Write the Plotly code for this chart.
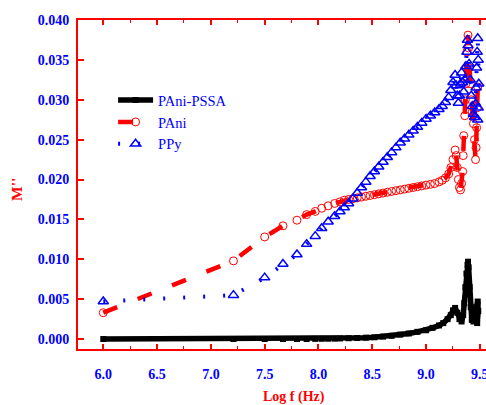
import plotly.graph_objects as go

# ---- data ----
PANI_PSSA_X = [6.00, 7.21, 7.50, 7.67, 7.80, 7.89, 7.97, 8.03, 8.09, 8.15, 8.20, 8.28, 8.36, 8.44,
               8.52, 8.60, 8.68, 8.76, 8.84, 8.92, 9.00, 9.06, 9.12, 9.16, 9.20, 9.23, 9.25, 9.27,
               9.29, 9.31, 9.33, 9.345, 9.355, 9.365, 9.375, 9.385, 9.39, 9.395, 9.405, 9.415,
               9.425, 9.44, 9.455, 9.47, 9.48, 9.485, 9.475]
PANI_PSSA_Y = [0.0, 0.0, 0.0, 0.0, 0.0, 0.0, 0.00002, 0.00003, 0.00004, 0.00005, 0.00007, 0.0001,
               0.00013, 0.00017, 0.00022, 0.0003, 0.0004, 0.00055, 0.0007, 0.0009, 0.0011, 0.0014,
               0.0017, 0.0020, 0.0025, 0.0030, 0.0036, 0.0039, 0.0033, 0.0025, 0.0022, 0.0030,
               0.0045, 0.0065, 0.0082, 0.0093, 0.0097, 0.0090, 0.0065, 0.0040, 0.0024, 0.0022,
               0.0030, 0.0040, 0.0047, 0.0035, 0.0020]

PANI_X = [6.00, 7.21, 7.50, 7.67, 7.80, 7.89, 7.97, 8.03, 8.09, 8.15, 8.20, 8.24, 8.28, 8.32,
          8.36, 8.40, 8.44, 8.48, 8.52, 8.56, 8.60, 8.64, 8.68, 8.72, 8.76, 8.80, 8.84, 8.88,
          8.92, 8.96, 9.00, 9.04, 9.08, 9.12, 9.15, 9.18, 9.21, 9.23, 9.25, 9.27, 9.28, 9.29,
          9.30, 9.31, 9.32, 9.33, 9.34, 9.345, 9.35, 9.36, 9.365, 9.37, 9.375, 9.38, 9.39,
          9.395, 9.40, 9.41, 9.42, 9.43, 9.44, 9.45, 9.46, 9.465, 9.47, 9.475, 9.48]
PANI_Y = [0.0033, 0.0098, 0.0128, 0.0142, 0.0149, 0.0156, 0.0160, 0.0164, 0.0167, 0.0170,
          0.0172, 0.0174, 0.0175, 0.0176, 0.0177, 0.0178, 0.0179, 0.0180, 0.0181, 0.0182,
          0.0183, 0.0184, 0.0185, 0.0186, 0.0187, 0.0188, 0.0189, 0.0190, 0.0191, 0.0192,
          0.0193, 0.0194, 0.0195, 0.0197, 0.0199, 0.0202, 0.0207, 0.0215, 0.0225, 0.0237,
          0.0230, 0.0215, 0.0200, 0.0190, 0.0187, 0.0195, 0.0210, 0.0230, 0.0255, 0.0280,
          0.0300, 0.0320, 0.0340, 0.0360, 0.0381, 0.0365, 0.0340, 0.0320, 0.0300, 0.0285,
          0.0270, 0.0250, 0.0225, 0.0240, 0.0265, 0.0290, 0.0316]

PPY_X = [6.00, 7.21, 7.50, 7.67, 7.80, 7.89, 7.97, 8.03, 8.09, 8.15, 8.20, 8.24, 8.28, 8.32,
         8.36, 8.40, 8.44, 8.48, 8.52, 8.56, 8.60, 8.64, 8.68, 8.72, 8.76, 8.80, 8.84, 8.88,
         8.92, 8.96, 9.00, 9.04, 9.08, 9.12, 9.15, 9.18, 9.21, 9.23, 9.25, 9.27, 9.28, 9.29,
         9.30, 9.31, 9.32, 9.33, 9.34, 9.35, 9.36, 9.37, 9.38, 9.385, 9.39, 9.40, 9.41, 9.42,
         9.43, 9.44, 9.45, 9.46, 9.465, 9.47, 9.475, 9.48, 9.485, 9.49, 9.485, 9.48]
PPY_Y = [0.0047, 0.0055, 0.0077, 0.0094, 0.0106, 0.0119, 0.0129, 0.0139, 0.0147, 0.0154,
         0.0160, 0.0165, 0.0170, 0.0176, 0.0183, 0.0190, 0.0197, 0.0204, 0.0210, 0.0216,
         0.0222, 0.0228, 0.0234, 0.0240, 0.0246, 0.0251, 0.0256, 0.0261, 0.0266, 0.0271,
         0.0276, 0.0280, 0.0284, 0.0288, 0.0292, 0.0297, 0.0303, 0.0312, 0.0322, 0.0331,
         0.0318, 0.0305, 0.0296, 0.0305, 0.0320, 0.0334, 0.0322, 0.0310, 0.0325, 0.0342,
         0.0360, 0.0375, 0.0368, 0.0345, 0.0325, 0.0305, 0.0292, 0.0282, 0.0278, 0.0295,
         0.0315, 0.0340, 0.0360, 0.0377, 0.0350, 0.0320, 0.0290, 0.0275]

X_TICKS = [6.0, 6.5, 7.0, 7.5, 8.0, 8.5, 9.0, 9.5]
Y_TICKS = [0.000, 0.005, 0.010, 0.015, 0.020, 0.025, 0.030, 0.035, 0.040]

SERIF = "Liberation Serif, Times New Roman, serif"
RED = "#ff0000"
BLUE = "#0000ff"

fig = go.Figure()
fig.add_trace(go.Scatter(
    x=PANI_PSSA_X, y=PANI_PSSA_Y, name="PAni-PSSA", mode="lines+markers",
    line=dict(color="black", width=5.5),
    marker=dict(symbol="square", size=6, color="black"),
))
fig.add_trace(go.Scatter(
    x=PANI_X, y=PANI_Y, name="PAni", mode="lines+markers",
    line=dict(color=RED, width=4.5, dash="15px,22px"),
    marker=dict(symbol="circle-open", size=8, color=RED, line=dict(width=1)),
))
fig.add_trace(go.Scatter(
    x=PPY_X, y=PPY_Y, name="PPy", mode="lines+markers",
    line=dict(color=BLUE, width=4, dash="2px,18px"),
    marker=dict(symbol="triangle-up-open", size=9, color=BLUE, line=dict(width=1.5)),
))

fig.update_layout(
    width=486, height=405,
    margin=dict(l=78, r=0, t=20, b=56),
    paper_bgcolor="white", plot_bgcolor="white",
    font=dict(family=SERIF),
    showlegend=True,
    legend=dict(
        x=0.086, y=0.805, xanchor="left", yanchor="top",
        bgcolor="rgba(0,0,0,0)", borderwidth=0,
        font=dict(family=SERIF, size=14.5, color=BLUE),
        tracegroupgap=0, itemwidth=35,
    ),
    xaxis=dict(
        range=[5.765, 9.557], autorange=False,
        tickvals=X_TICKS, ticktext=[f"{v:.1f}" for v in X_TICKS],
        showgrid=False, zeroline=False,
        showline=True, linecolor=RED, linewidth=2, mirror="ticks",
        ticks="inside", ticklen=5, tickwidth=1.5, tickcolor=RED,
        minor=dict(ticks="inside", ticklen=3, tickwidth=1, tickcolor=RED, dtick=0.25, tick0=6.0),
        tickfont=dict(family=SERIF, size=14, color=BLUE, weight="bold"),
        ticklabelstandoff=11, automargin=False, ticklabeloverflow="allow",
    ),
    yaxis=dict(
        range=[-0.00125, 0.040], autorange=False,
        tickvals=Y_TICKS, ticktext=[f"{v:.3f}" for v in Y_TICKS],
        showgrid=False, zeroline=False,
        showline=True, linecolor=RED, linewidth=2, mirror=False,
        ticks="inside", ticklen=6, tickwidth=1.5, tickcolor=RED,
        tickfont=dict(family=SERIF, size=14, color=BLUE, weight="bold"),
        ticklabelstandoff=4, automargin=False,
    ),
)

# axis titles positioned by pixel location, converted to paper coordinates
pw = 486 - 78 - 0
ph = 405 - 20 - 56
def px2paper(px, py):
    return (px - 78) / pw, (405 - 56 - py) / ph

xt = px2paper(294, 397)
yt = px2paper(16, 190)
fig.add_annotation(text="<b>Log f (Hz)</b>", x=xt[0], y=xt[1], xref="paper", yref="paper",
                   showarrow=False, xanchor="center", yanchor="middle",
                   font=dict(family=SERIF, size=14, color=RED))
fig.add_annotation(text="<b>M''</b>", x=yt[0], y=yt[1], xref="paper", yref="paper",
                   textangle=-90, showarrow=False, xanchor="center", yanchor="middle",
                   font=dict(family=SERIF, size=15.5, color=RED))

fig.write_html("out.html")
